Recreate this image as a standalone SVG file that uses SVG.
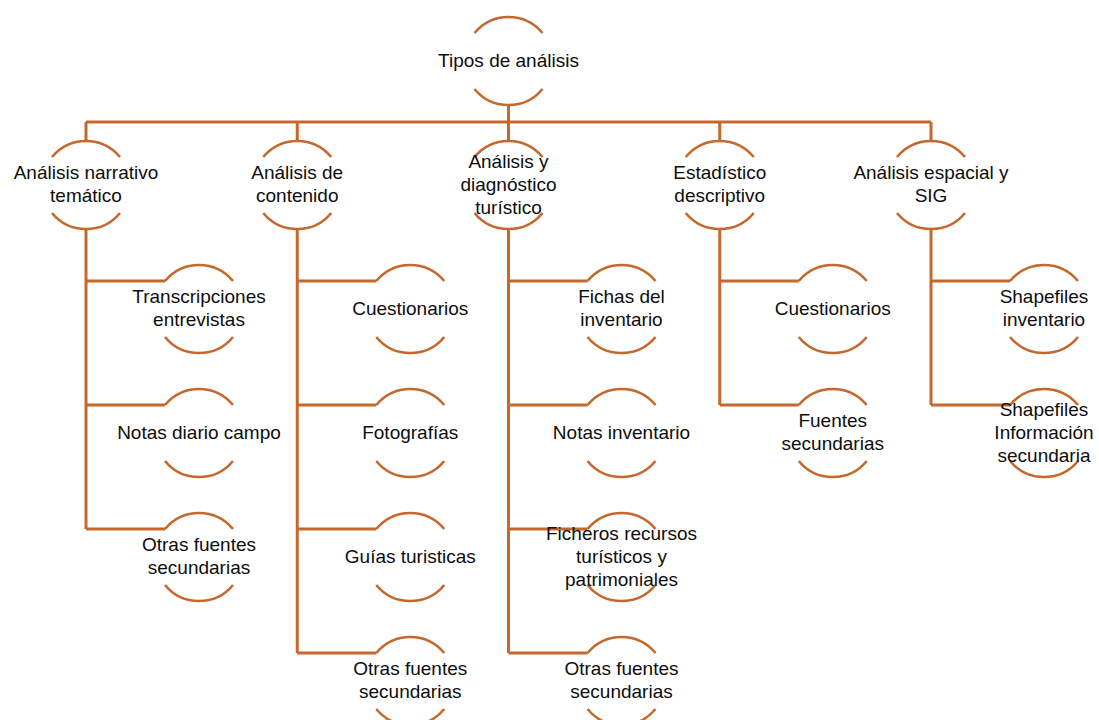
<svg xmlns="http://www.w3.org/2000/svg" xmlns:xlink="http://www.w3.org/1999/xlink" width="1099" height="720" viewBox="0 0 1099 720">
<style>
.arc{fill:none;stroke:#C5682D;stroke-width:2.6}
.con{fill:none;stroke:#C5682D;stroke-width:3}
text{font-family:"Liberation Sans",Arial,sans-serif;font-size:19px;fill:#0d0d0d;text-anchor:middle}
</style>
<defs>
<g id="arcs">
<path class="arc" d="M-34,-28 A44,44 0 0 1 34,-28"/>
<path class="arc" d="M-34,28 A44,44 0 0 0 34,28"/>
</g>
</defs>
<rect width="1099" height="720" fill="#fff"/>
<g id="connectors">
<path class="con" d="M508.5,105 V122 M86,122 H931 M86,122 V141 M297.25,122 V141 M508.5,122 V141 M719.75,122 V141 M931,122 V141"/>
<path class="con" d="M86,229 V529 M86,281 H165 M86,405 H165 M86,529 H165"/>
<path class="con" d="M297.25,229 V653 M297.25,281 H376.25 M297.25,405 H376.25 M297.25,529 H376.25 M297.25,653 H376.25"/>
<path class="con" d="M508.5,229 V653 M508.5,281 H587.5 M508.5,405 H587.5 M508.5,529 H587.5 M508.5,653 H587.5"/>
<path class="con" d="M719.75,229 V405 M719.75,281 H798.75 M719.75,405 H798.75"/>
<path class="con" d="M931,229 V405 M931,281 H1010 M931,405 H1010"/>
</g>
<g id="n0"><use xlink:href="#arcs" x="508.5" y="61"/><text x="508.5" y="66.5">Tipos de análisis</text></g>
<g id="n1"><use xlink:href="#arcs" x="86" y="185"/><text x="86" y="179">Análisis narrativo</text><text x="86" y="202">temático</text></g>
<g id="n2"><use xlink:href="#arcs" x="297.25" y="185"/><text x="297.25" y="179">Análisis de</text><text x="297.25" y="202">contenido</text></g>
<g id="n3"><use xlink:href="#arcs" x="508.5" y="185"/><text x="508.5" y="167.5">Análisis y</text><text x="508.5" y="190.5">diagnóstico</text><text x="508.5" y="213.5">turístico</text></g>
<g id="n4"><use xlink:href="#arcs" x="719.75" y="185"/><text x="719.75" y="179">Estadístico</text><text x="719.75" y="202">descriptivo</text></g>
<g id="n5"><use xlink:href="#arcs" x="931" y="185"/><text x="931" y="179">Análisis espacial y</text><text x="931" y="202">SIG</text></g>

<g id="n1a"><use xlink:href="#arcs" x="199" y="309"/><text x="199" y="303">Transcripciones</text><text x="199" y="326">entrevistas</text></g>
<g id="n1b"><use xlink:href="#arcs" x="199" y="433"/><text x="199" y="438.5">Notas diario campo</text></g>
<g id="n1c"><use xlink:href="#arcs" x="199" y="557"/><text x="199" y="551">Otras fuentes</text><text x="199" y="574">secundarias</text></g>

<g id="n2a"><use xlink:href="#arcs" x="410.25" y="309"/><text x="410.25" y="314.5">Cuestionarios</text></g>
<g id="n2b"><use xlink:href="#arcs" x="410.25" y="433"/><text x="410.25" y="438.5">Fotografías</text></g>
<g id="n2c"><use xlink:href="#arcs" x="410.25" y="557"/><text x="410.25" y="562.5">Guías turisticas</text></g>
<g id="n2d"><use xlink:href="#arcs" x="410.25" y="681"/><text x="410.25" y="675">Otras fuentes</text><text x="410.25" y="698">secundarias</text></g>

<g id="n3a"><use xlink:href="#arcs" x="621.5" y="309"/><text x="621.5" y="303">Fichas del</text><text x="621.5" y="326">inventario</text></g>
<g id="n3b"><use xlink:href="#arcs" x="621.5" y="433"/><text x="621.5" y="438.5">Notas inventario</text></g>
<g id="n3c"><use xlink:href="#arcs" x="621.5" y="557"/><text x="621.5" y="539.5">Ficheros recursos</text><text x="621.5" y="562.5">turísticos y</text><text x="621.5" y="585.5">patrimoniales</text></g>
<g id="n3d"><use xlink:href="#arcs" x="621.5" y="681"/><text x="621.5" y="675">Otras fuentes</text><text x="621.5" y="698">secundarias</text></g>

<g id="n4a"><use xlink:href="#arcs" x="832.75" y="309"/><text x="832.75" y="314.5">Cuestionarios</text></g>
<g id="n4b"><use xlink:href="#arcs" x="832.75" y="433"/><text x="832.75" y="427">Fuentes</text><text x="832.75" y="450">secundarias</text></g>

<g id="n5a"><use xlink:href="#arcs" x="1044" y="309"/><text x="1044" y="303">Shapefiles</text><text x="1044" y="326">inventario</text></g>
<g id="n5b"><use xlink:href="#arcs" x="1044" y="433"/><text x="1044" y="415.5">Shapefiles</text><text x="1044" y="438.5">Información</text><text x="1044" y="461.5">secundaria</text></g>
</svg>
